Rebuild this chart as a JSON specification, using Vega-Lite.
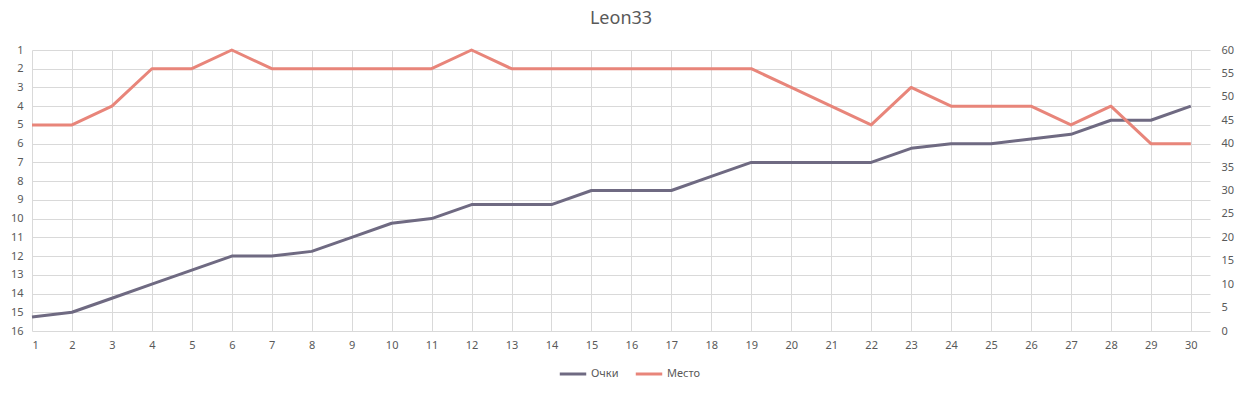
{
  "$schema": "https://vega.github.io/schema/vega-lite/v6.json",
  "width": 1178,
  "height": 281,
  "autosize": {"type": "none"},
  "padding": {"left": 32, "top": 50, "right": 34, "bottom": 62},
  "background": "#ffffff",
  "title": {"text": "Leon33", "fontSize": 18, "font": "Noto Sans", "fontWeight": "normal", "color": "#595959", "anchor": "middle", "frame": "group", "offset": 16},
  "config": {
    "view": {"stroke": null},
    "axis": {"labelFont": "Noto Sans", "labelFontSize": 11, "labelColor": "#595959", "gridColor": "#d9d9d9", "gridWidth": 1, "domain": false, "ticks": false, "title": null},
    "legend": {"labelFont": "Noto Sans", "labelFontSize": 11, "labelColor": "#595959"}
  },
  "data": {"values": [
    {"round": 1, "points": 3, "place": 5},
    {"round": 2, "points": 4, "place": 5},
    {"round": 3, "points": 7, "place": 4},
    {"round": 4, "points": 10, "place": 2},
    {"round": 5, "points": 13, "place": 2},
    {"round": 6, "points": 16, "place": 1},
    {"round": 7, "points": 16, "place": 2},
    {"round": 8, "points": 17, "place": 2},
    {"round": 9, "points": 20, "place": 2},
    {"round": 10, "points": 23, "place": 2},
    {"round": 11, "points": 24, "place": 2},
    {"round": 12, "points": 27, "place": 1},
    {"round": 13, "points": 27, "place": 2},
    {"round": 14, "points": 27, "place": 2},
    {"round": 15, "points": 30, "place": 2},
    {"round": 16, "points": 30, "place": 2},
    {"round": 17, "points": 30, "place": 2},
    {"round": 18, "points": 33, "place": 2},
    {"round": 19, "points": 36, "place": 2},
    {"round": 20, "points": 36, "place": 3},
    {"round": 21, "points": 36, "place": 4},
    {"round": 22, "points": 36, "place": 5},
    {"round": 23, "points": 39, "place": 3},
    {"round": 24, "points": 40, "place": 4},
    {"round": 25, "points": 40, "place": 4},
    {"round": 26, "points": 41, "place": 4},
    {"round": 27, "points": 42, "place": 5},
    {"round": 28, "points": 45, "place": 4},
    {"round": 29, "points": 45, "place": 6},
    {"round": 30, "points": 48, "place": 6}
  ]},
  "encoding": {
    "x": {"field": "round", "type": "quantitative",
      "scale": {"domain": [1, 30.48], "nice": false, "zero": false},
      "axis": {"values": [1,2,3,4,5,6,7,8,9,10,11,12,13,14,15,16,17,18,19,20,21,22,23,24,25,26,27,28,29,30], "format": "d", "labelAngle": 0, "labelPadding": 8, "grid": true}}
  },
  "layer": [
    {
      "mark": {"type": "line", "strokeWidth": 3, "strokeJoin": "round"},
      "encoding": {
        "y": {"field": "points", "type": "quantitative",
          "scale": {"domain": [0, 60], "nice": false},
          "axis": {"orient": "right", "values": [0,5,10,15,20,25,30,35,40,45,50,55,60], "grid": false, "labelPadding": 11}},
        "color": {"datum": "Очки", "type": "nominal",
          "scale": {"domain": ["Очки", "Место"], "range": ["#6F6A82", "#E8857A"]},
          "legend": {"title": null, "orient": "none", "legendX": 526, "legendY": 309, "direction": "horizontal", "symbolType": "stroke", "symbolSize": 700, "symbolStrokeWidth": 3, "labelOffset": 3, "columnPadding": 10, "padding": 0}}
      }
    },
    {
      "mark": {"type": "line", "strokeWidth": 3, "strokeJoin": "round"},
      "encoding": {
        "y": {"field": "place", "type": "quantitative",
          "scale": {"domain": [1, 16], "reverse": true, "nice": false, "zero": false},
          "axis": {"orient": "left", "values": [1,2,3,4,5,6,7,8,9,10,11,12,13,14,15,16], "grid": true, "labelPadding": 9}},
        "color": {"datum": "Место", "type": "nominal"}
      }
    }
  ],
  "resolve": {"scale": {"y": "independent"}}
}
